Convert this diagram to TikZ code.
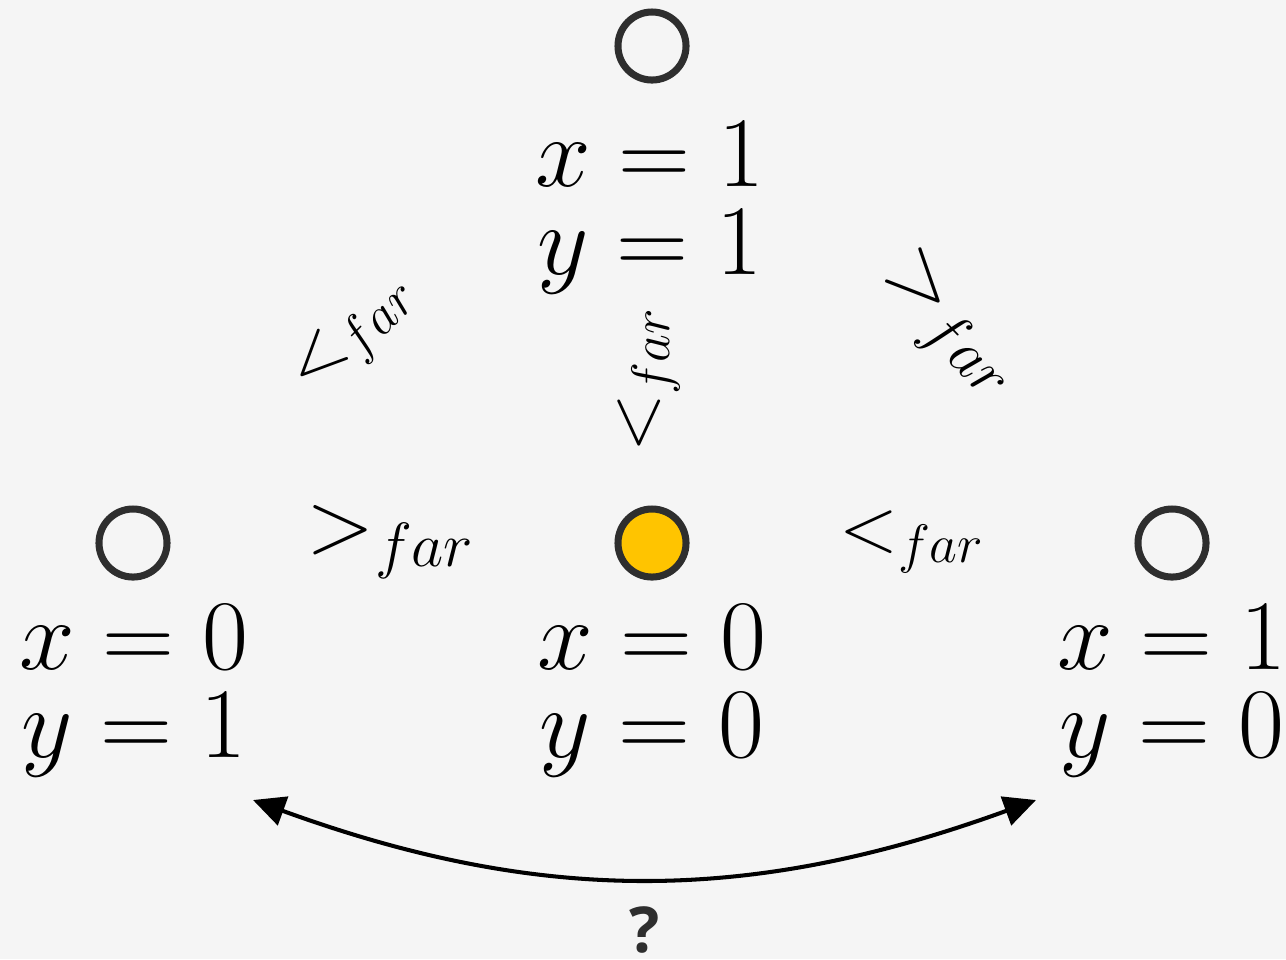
\documentclass[tikz,border=0pt]{standalone}
\usepackage{fix-cm}
\usepackage{fontspec}
\newfontfamily\qfont{Open Sans}
\usetikzlibrary{arrows.meta}
\definecolor{bgcol}{HTML}{F5F5F5}
\definecolor{ringcol}{HTML}{2E2E2E}
\definecolor{hitcol}{HTML}{FFC400}
\tikzset{
    state/.style={circle, draw=ringcol, line width=2pt, minimum size=0.68cm, inner sep=0pt},
    vals/.style={align=center, font=\fontsize{28.4}{24.8}\selectfont},
    ltrel/.style={font=\fontsize{22}{26}\selectfont, inner sep=0pt},
    gtrel/.style={font=\fontsize{25.4}{30}\selectfont, inner sep=0pt},
}
\begin{document}
\begin{tikzpicture}[x=0.01cm, y=-0.01cm]
    \fill[bgcol] (0,0) rectangle (1286,959);
    \useasboundingbox (0,0) rectangle (1286,959);
    % States
    \node[state] (s11) at (652,46) {};
    \node[state] (s01) at (133,543) {};
    \node[state, fill=hitcol] (s00) at (652,543) {};
    \node[state] (s10) at (1172,543) {};
    % Values
    \node[vals] (v11) at (650,208) {$x = 1$\\$y = 1$};
    \node[vals] (v01) at (134,691) {$x = 0$\\$y = 1$};
    \node[vals] (v00) at (652,691) {$x = 0$\\$y = 0$};
    \node[vals] (v10) at (1172,691) {$x = 1$\\$y = 0$};
    % Comparisons
    \node[ltrel, rotate=45] (r1) at (355,336) {$<_{far}$};
    \node[ltrel, rotate=90] (r2) at (649,380) {$<_{far}$};
    \node[gtrel, rotate=-46] (r3) at (948,327) {$>_{far}$};
    \node[gtrel] (r4) at (391,542) {$>_{far}$};
    \node[ltrel] (r5) at (912,542) {$<_{far}$};
    % Open question
    \coordinate (qL) at (253,800);
    \coordinate (qR) at (1036,800);
    \draw[{Triangle[length=0.32cm,width=0.3cm]}-{Triangle[length=0.32cm,width=0.3cm]}, line width=1.15pt]
        (qL) to[bend right=20] (qR);
    \node[font=\qfont\bfseries\fontsize{18}{20}\selectfont, text=ringcol, inner sep=0pt] (q) at (645,930) {?};
\end{tikzpicture}
\end{document}
